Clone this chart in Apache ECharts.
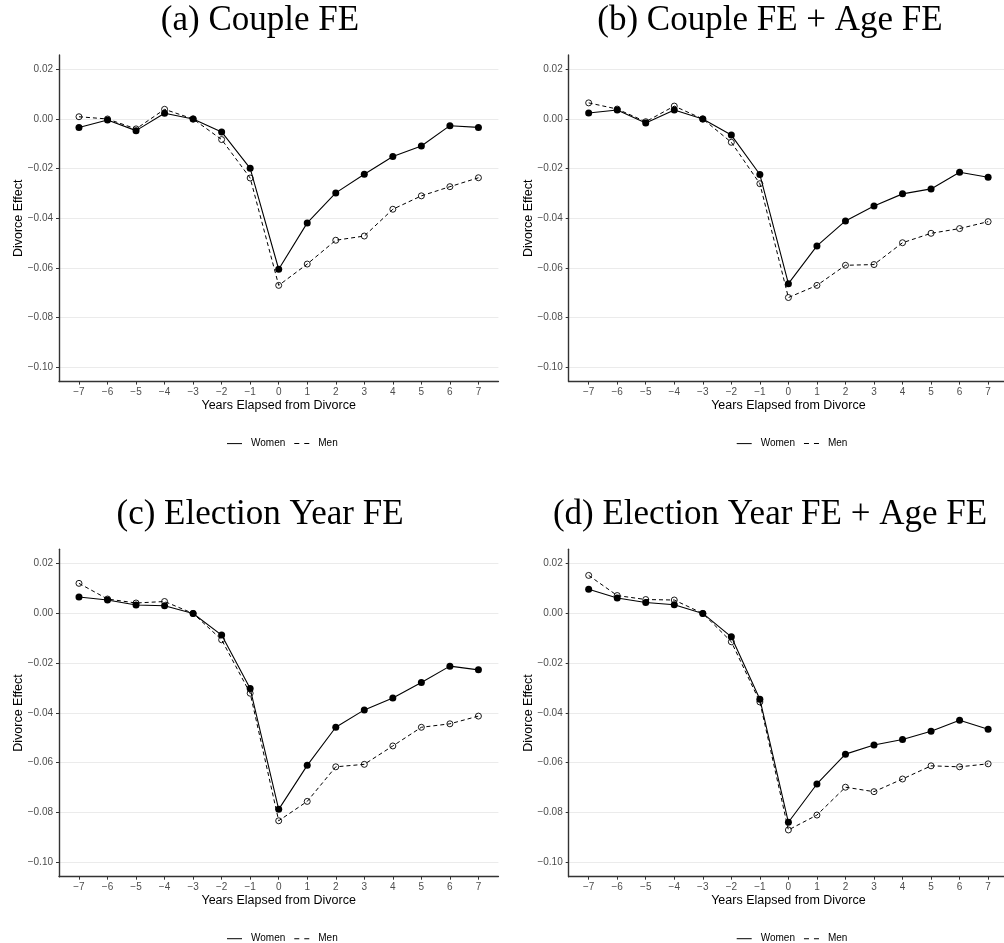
<!DOCTYPE html>
<html>
<head>
<meta charset="utf-8">
<script src="https://cdn.jsdelivr.net/npm/echarts@6/dist/echarts.min.js"></script>
<style>
  html, body { margin: 0; padding: 0; background: #fff; }
  #chart { width: 1004px; height: 943px; }
</style>
</head>
<body>
<div id="chart"></div>
<script>
// Event-study estimates of the divorce effect, by years elapsed from divorce
const years = [-7, -6, -5, -4, -3, -2, -1, 0, 1, 2, 3, 4, 5, 6, 7];
const yTicks = [-0.10, -0.08, -0.06, -0.04, -0.02, 0.00, 0.02];

const panelTitles = [
  '(a) Couple FE',
  '(b) Couple FE + Age FE',
  '(c) Election Year FE',
  '(d) Election Year FE + Age FE'
];

// (a) Couple FE
const coupleWomen = [-0.0034, -0.0004, -0.0047, 0.0023, 0.0000, -0.0052, -0.0199, -0.0606, -0.0419, -0.0298, -0.0223, -0.0151, -0.0109, -0.0027, -0.0034];
const coupleMen   = [0.0009, 0.0000, -0.0040, 0.0039, 0.0000, -0.0083, -0.0238, -0.0671, -0.0585, -0.0489, -0.0472, -0.0364, -0.0310, -0.0273, -0.0237];
// (b) Couple FE + Age FE
const coupleAgeWomen = [0.0024, 0.0036, -0.0016, 0.0036, 0.0000, -0.0065, -0.0224, -0.0664, -0.0512, -0.0411, -0.0351, -0.0302, -0.0282, -0.0215, -0.0235];
const coupleAgeMen   = [0.0065, 0.0040, -0.0011, 0.0052, 0.0000, -0.0094, -0.0261, -0.0720, -0.0671, -0.0590, -0.0587, -0.0499, -0.0461, -0.0442, -0.0414];
// (c) Election Year FE
const electionWomen = [0.0066, 0.0054, 0.0034, 0.0031, 0.0000, -0.0087, -0.0302, -0.0788, -0.0611, -0.0458, -0.0388, -0.0340, -0.0278, -0.0212, -0.0227];
const electionMen   = [0.0121, 0.0058, 0.0042, 0.0048, 0.0000, -0.0106, -0.0321, -0.0834, -0.0756, -0.0617, -0.0607, -0.0533, -0.0458, -0.0444, -0.0413];
// (d) Election Year FE + Age FE
const electionAgeWomen = [0.0097, 0.0062, 0.0044, 0.0035, 0.0000, -0.0094, -0.0345, -0.0840, -0.0686, -0.0566, -0.0529, -0.0507, -0.0474, -0.0430, -0.0466];
const electionAgeMen   = [0.0153, 0.0072, 0.0056, 0.0054, 0.0000, -0.0114, -0.0356, -0.0871, -0.0811, -0.0699, -0.0717, -0.0666, -0.0613, -0.0617, -0.0605];

const panelData = [
  [coupleWomen, coupleMen],
  [coupleAgeWomen, coupleAgeMen],
  [electionWomen, electionMen],
  [electionAgeWomen, electionAgeMen]
];

// panel placement (pixels)
const panelLeft = [59, 568.7, 59, 568.7];
const panelTop = [55, 55, 549.3, 549.3];
const panelW = 439.4;
const panelH = [326.6, 326.6, 327.4, 327.4];
const titleX = [260, 770, 260, 770];
const titleY = [21, 21, 515, 515];

const minus = '\u2212';
const fmtY = v => (v < -1e-9 ? minus : '') + Math.abs(v).toFixed(2);
const fmtX = v => (v < 0 ? minus + Math.abs(v) : String(v));

const solidIcon = 'path://M0,0H15V1H0Z';
const dashedIcon = 'path://M0,0H5V1H0ZM10,0H15V1H10Z';

const grid = [], xAxis = [], yAxis = [], series = [], legend = [], graphic = [];

for (let p = 0; p < 4; p++) {
  grid.push({
    left: panelLeft[p], top: panelTop[p], width: panelW, height: panelH[p],
    containLabel: false, outerBoundsMode: 'none'
  });
  xAxis.push({
    type: 'value', gridIndex: p, min: -7.7, max: 7.7,
    name: 'Years Elapsed from Divorce', nameLocation: 'middle', nameGap: 17,
    nameMoveOverlap: false,
    nameTextStyle: { fontFamily: 'Liberation Sans', fontSize: 12.5, color: '#000' },
    axisLine: { show: true, onZero: false, lineStyle: { color: '#333', width: 1.4 } },
    axisTick: { show: true, length: 3, customValues: years, lineStyle: { color: '#333', width: 1 } },
    axisLabel: { show: true, customValues: years, formatter: fmtX, margin: 6,
      fontFamily: 'Liberation Sans', fontSize: 10, color: '#4d4d4d', hideOverlap: false },
    splitLine: { show: false }
  });
  yAxis.push({
    type: 'value', gridIndex: p, min: -0.1059, max: 0.0258,
    name: 'Divorce Effect', nameLocation: 'middle', nameGap: 34,
    nameMoveOverlap: false,
    nameTextStyle: { fontFamily: 'Liberation Sans', fontSize: 12.5, color: '#000' },
    axisLine: { show: true, onZero: false, lineStyle: { color: '#333', width: 1.4 } },
    axisTick: { show: true, length: 3, customValues: yTicks, lineStyle: { color: '#333', width: 1 } },
    axisLabel: { show: true, customValues: yTicks, formatter: fmtY, margin: 6,
      fontFamily: 'Liberation Sans', fontSize: 10, color: '#4d4d4d', hideOverlap: false },
    splitLine: { show: true, lineStyle: { color: '#ebebeb', width: 1 } }
  });

  const [women, men] = panelData[p];
  series.push({
    name: 'Men', type: 'line', xAxisIndex: p, yAxisIndex: p,
    data: years.map((x, i) => [x, men[i]]),
    symbol: 'circle', symbolSize: 6,
    lineStyle: { color: '#000', width: 1, type: [4, 3] },
    itemStyle: { color: 'rgba(255,255,255,0)', borderColor: '#000', borderWidth: 0.9 },
    emphasis: { disabled: true }, z: 2
  });
  series.push({
    name: 'Women', type: 'line', xAxisIndex: p, yAxisIndex: p,
    data: years.map((x, i) => [x, women[i]]),
    symbol: 'circle', symbolSize: 7,
    lineStyle: { color: '#000', width: 1.1, type: 'solid' },
    itemStyle: { color: '#000', borderWidth: 0 },
    emphasis: { disabled: true }, z: 3
  });

  legend.push({
    left: panelLeft[p] + 163, top: panelTop[p] + panelH[p] + 52,
    orient: 'horizontal', itemWidth: 15, itemHeight: 1, itemGap: 9,
    selectedMode: false,
    itemStyle: { color: '#000', borderWidth: 0 },
    textStyle: { fontFamily: 'Liberation Sans', fontSize: 10, color: '#000', padding: [0, 0, 0, 4] },
    data: [
      { name: 'Women', icon: solidIcon },
      { name: 'Men', icon: dashedIcon }
    ]
  });

  graphic.push({
    type: 'text', x: titleX[p], y: titleY[p],
    style: {
      text: panelTitles[p], align: 'center', verticalAlign: 'middle',
      font: '35px "Liberation Serif"', fill: '#000'
    }
  });
}

const chart = echarts.init(document.getElementById('chart'), null, { renderer: 'canvas' });
chart.setOption({
  animation: false,
  backgroundColor: '#fff',
  grid, xAxis, yAxis, series, legend, graphic,
  tooltip: { show: false }
});
</script>
</body>
</html>
